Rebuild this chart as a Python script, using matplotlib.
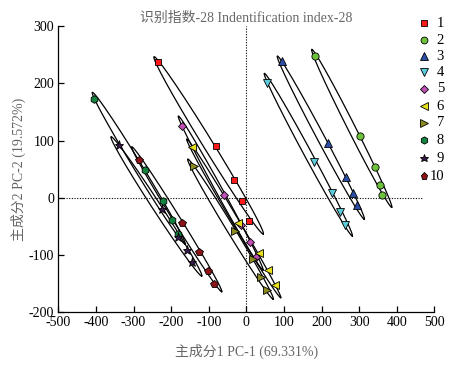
import numpy as np
import matplotlib
matplotlib.use("Agg")
import matplotlib.pyplot as plt

plt.rcParams['font.family'] = ['Liberation Serif', 'Noto Sans CJK SC', 'DejaVu Sans']

# ---------------- data ----------------
groups = ['1', '2', '3', '4', '5', '6', '7', '8', '9', '10']

g1_x = [-234, -81, -34, -11, 7];          g1_y = [237, 90.5, 30.5, -5.5, -40]
g2_x = [183.5, 303, 342, 355.5, 360];     g2_y = [247.6, 108.6, 53, 23, 5]
g3_x = [94, 218, 264, 284.5, 295];        g3_y = [239, 96, 37, 8, -12.5]
g4_x = [56, 181, 229, 249, 263];          g4_y = [201, 63, 9, -25, -47]
g5_x = [-172, -59, -15, 10, 26];          g5_y = [125, 5, -47, -78, -103]
g6_x = [-145, -21.5, 34.6, 58.5, 76];     g6_y = [89, -44.5, -96, -126, -152]
g7_x = [-139, -30, 18.6, 38.2, 54];       g7_y = [55.5, -57.4, -107.5, -138.8, -161]
g8_x = [-404, -268.6, -222.5, -198.6, -182.6]; g8_y = [172.6, 49, -5.5, -39, -64]
g9_x = [-338, -223.4, -183, -158.7, -143.6];   g9_y = [93, -20, -67.7, -92, -112.6]
g10_x = [-284.6, -171, -126.8, -102, -87];     g10_y = [65.5, -44.5, -95, -127, -150]

xs = [g1_x, g2_x, g3_x, g4_x, g5_x, g6_x, g7_x, g8_x, g9_x, g10_x]
ys = [g1_y, g2_y, g3_y, g4_y, g5_y, g6_y, g7_y, g8_y, g9_y, g10_y]

# ellipse major-axis tips (data units) per group
ell_x1 = [-245.6, 173.9, 82.4, 47.8, -180.9, -158.6, -155.9, -409.7, -359.9, -304.9]
ell_y1 = [246.4, 259.3, 247.6, 217.4, 142.8, 102.7, 67.7, 184.2, 106.7, 89.2]
ell_x2 = [45.0, 386.6, 313.8, 281.8, 44.3, 91.4, 71.7, -163.1, -118.7, -65.5]
ell_y2 = [-63.2, -16.6, -37.5, -66.7, -126.1, -174.4, -177.2, -80.7, -136.5, -164.0]

x_ticks = [-500, -400, -300, -200, -100, 0, 100, 200, 300, 400, 500]
y_ticks = [-200, -100, 0, 100, 200, 300]

# ---------------- styles ----------------
colors = ['#ff1a1a', '#6cc23a', '#2b4ea6', '#5ccbdc', '#c04fb8',
          '#e8e01a', '#8a8a1e', '#13843f', '#3a1a4e', '#8c1418']
markers = ['s', 'o', '^', 'v', 'D', '<', '>', 'h', '*', 'p']
msizes = [5, 5.2, 5.5, 5.5, 4.5, 5.5, 5.5, 5.5, 6.5, 5.5]
ell_minor_px = [5.0, 3.8, 3.8, 3.8, 3.4, 3.4, 3.8, 4.2, 4.2, 3.6]

W, H, DPI = 4.59, 3.70, 100
fig = plt.figure(figsize=(W, H), dpi=DPI)
left, right, bottom, top = 0.1271, 0.9463, 0.1559, 0.9297
ax = fig.add_axes([left, bottom, right - left, top - bottom])

xmin, xmax, ymin, ymax = -500, 500, -200, 300
ax.set_xlim(xmin, xmax)
ax.set_ylim(ymin, ymax)

# pixel scale per data unit
sx = (right - left) * W * DPI / (xmax - xmin)
sy = (top - bottom) * H * DPI / (ymax - ymin)

# dotted reference lines
ax.plot([-500, 470], [0, 0], linestyle=(0, (1, 1.4)), color='black', lw=0.8, zorder=1)
ax.plot([0, 0], [-200, 300], linestyle=(0, (1, 1.4)), color='black', lw=0.8, zorder=1)

# ellipses
t = np.linspace(0, 2 * np.pi, 300)
for i in range(len(groups)):
    p1 = np.array([ell_x1[i] * sx, ell_y1[i] * sy])
    p2 = np.array([ell_x2[i] * sx, ell_y2[i] * sy])
    c = (p1 + p2) / 2
    u = (p2 - p1) / 2
    n = np.array([-u[1], u[0]]) / np.linalg.norm(u)
    v = n * ell_minor_px[i]
    px = c[0] + u[0] * np.cos(t) + v[0] * np.sin(t)
    py = c[1] + u[1] * np.cos(t) + v[1] * np.sin(t)
    ax.plot(px / sx, py / sy, color='black', lw=0.9, zorder=2)

# points
for i in range(len(groups)):
    ax.plot(xs[i], ys[i], linestyle='none', marker=markers[i], ms=msizes[i],
            mfc=colors[i], mec='black', mew=0.6, zorder=3)

# axes styling
for s in ['top', 'right']:
    ax.spines[s].set_visible(False)
for s in ['left', 'bottom']:
    ax.spines[s].set_linewidth(0.9)
ax.set_xticks(x_ticks)
ax.set_yticks(y_ticks)
ax.set_xticklabels([str(v) for v in x_ticks])
ax.set_yticklabels([str(v) for v in y_ticks])
ax.tick_params(direction='in', length=4, width=0.9, labelsize=10, pad=3)

gray = '#666666'
ax.set_title('识别指数-28 Indentification index-28', fontsize=10, color=gray, pad=3)
ax.set_xlabel('主成分1 PC-1 (69.331%)', fontsize=10, color=gray, labelpad=10)
ax.set_ylabel('主成分2 PC-2 (19.572%)', fontsize=10, color=gray, labelpad=2)

# manual legend (figure pixel layout)
leg_y_px = [23.3, 40, 56, 72, 89, 106, 123, 140, 158, 176]
for i in range(len(groups)):
    fy = 1 - leg_y_px[i] / (H * DPI)
    fig.lines.append(plt.Line2D([423.5 / (W * DPI)], [fy], transform=fig.transFigure,
                                linestyle='none', marker=markers[i], ms=msizes[i] * 0.95,
                                mfc=colors[i], mec='black', mew=0.6))
    fig.text(444 / (W * DPI), fy, groups[i], ha='right', va='center', fontsize=10.5)

fig.savefig('out.png', dpi=DPI)
